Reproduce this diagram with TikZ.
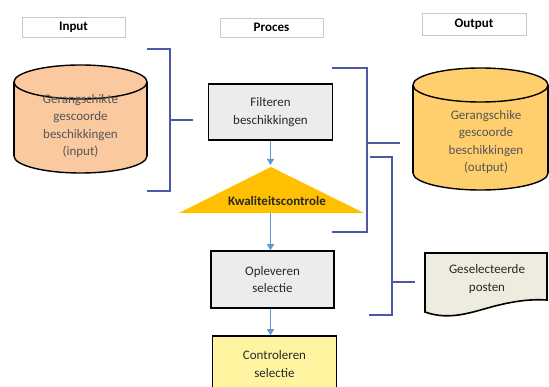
\documentclass[tikz,border=0pt]{standalone}
\usepackage{fontspec}
\setmainfont{Carlito}
\usetikzlibrary{arrows.meta}
\definecolor{brk}{RGB}{78,88,168}
\definecolor{arrc}{RGB}{91,155,213}
\definecolor{inFill}{RGB}{250,201,160}
\definecolor{outFill}{RGB}{255,207,110}
\definecolor{boxGray}{RGB}{236,236,236}
\definecolor{ctrlFill}{RGB}{255,245,160}
\definecolor{docFill}{RGB}{238,236,222}
\definecolor{goldc}{RGB}{255,192,0}
\definecolor{hdrLine}{RGB}{200,200,200}
\definecolor{txtGray}{RGB}{85,85,85}
\definecolor{txtDark}{RGB}{40,40,40}
\begin{document}
\begin{tikzpicture}[x=1pt,y=-1pt,
  font=\fontsize{13}{17.5}\selectfont,
  hdr/.style={draw=hdrLine, line width=0.8pt, fill=white, inner sep=0pt,
    font=\fontsize{13}{15}\selectfont\bfseries},
  procbox/.style={draw=black, line width=1.6pt, inner sep=0pt, align=center, text=txtDark},
  bracket/.style={draw=brk, line width=2.5pt},
  flow/.style={draw=arrc, line width=1.2pt, -{Triangle[width=7pt,length=6pt]}},
  cyl/.style={draw=black, line width=1.4pt},
  cyltext/.style={text=txtGray, align=center}
]
\useasboundingbox (0,0) rectangle (549,387);

% headers
\node[hdr, minimum width=103pt, minimum height=20pt] (hIn) at (73.5,27) {Input};
\node[hdr, minimum width=103pt, minimum height=19pt] (hProc) at (271.5,27.5) {Proces};
\node[hdr, minimum width=104pt, minimum height=22pt] (hOut) at (474,24) {Output};

% input cylinder
\fill[inFill] (14,82) rectangle (147,156);
\fill[inFill] (80.5,82) ellipse (66.5 and 17);
\fill[inFill] (80.5,156) ellipse (66.5 and 17);
\draw[cyl] (80.5,82) ellipse (66.5 and 17);
\draw[cyl] (14,82) -- (14,156);
\draw[cyl] (147,82) -- (147,156);
\begin{scope}
  \clip (10,156) rectangle (151,180);
  \draw[cyl] (80.5,156) ellipse (66.5 and 17);
\end{scope}
\node[cyltext] (inCyl) at (80.5,126) {Gerangschikte\\gescoorde\\beschikkingen\\(input)};

% output cylinder
\fill[outFill] (413,85) rectangle (548,173);
\fill[outFill] (480.5,85) ellipse (67.5 and 17);
\fill[outFill] (480.5,173) ellipse (67.5 and 17);
\draw[cyl] (480.5,85) ellipse (67.5 and 17);
\draw[cyl] (413,85) -- (413,173);
\draw[cyl] (548,85) -- (548,173);
\begin{scope}
  \clip (409,173) rectangle (552,195);
  \draw[cyl] (480.5,173) ellipse (67.5 and 17);
\end{scope}
\node[cyltext] (outCyl) at (486,142) {Gerangschike\\gescoorde\\beschikkingen\\(output)};

% process boxes
\node[procbox, fill=boxGray, minimum width=124pt, minimum height=56pt] (filter) at (270.5,112) {Filteren\\beschikkingen};
\node[procbox, fill=boxGray, minimum width=123pt, minimum height=57pt] (oplev) at (272.5,279.5) {Opleveren\\selectie};
\node[procbox, fill=ctrlFill, minimum width=124pt, minimum height=56pt] (ctrl) at (274.5,364) {Controleren\\selectie};

% quality control triangle
\coordinate (triTop) at (270.5,165);
\coordinate (triBot) at (270.5,213);
\fill[goldc] (271,167) -- (364,213) -- (179,213) -- cycle;
\node[font=\fontsize{13}{15}\selectfont\bfseries, text=txtDark] (qc) at (277,201) {Kwaliteitscontrole};

% arrows
\draw[flow] (filter.south) -- (triTop);
\draw[flow] (triBot) -- (triBot |- oplev.north);
\draw[flow] (oplev.south -| triBot) -- (ctrl.north -| triBot);

% document
\draw[fill=docFill, line width=1.6pt] (425,253) -- (547,253) -- (547,300)
  .. controls (530,299) and (515,301) .. (495,306)
  .. controls (472,312) and (450,321) .. (425,312) -- cycle;
\node[text=txtDark, align=center] (doc) at (487,279) {Geselecteerde\\posten};

% brackets
\draw[bracket] (147,49) -- (170,49) -- (170,191) -- (147,191);
\draw[bracket] (170,120) -- (193,120);
\draw[bracket] (332,68) -- (367,68) -- (367,232) -- (332,232);
\draw[bracket] (367,143) -- (400,143);
\draw[bracket] (370,157) -- (392,157) -- (392,315) -- (369,315);
\draw[bracket] (392,282) -- (415,282);
\end{tikzpicture}
\end{document}
